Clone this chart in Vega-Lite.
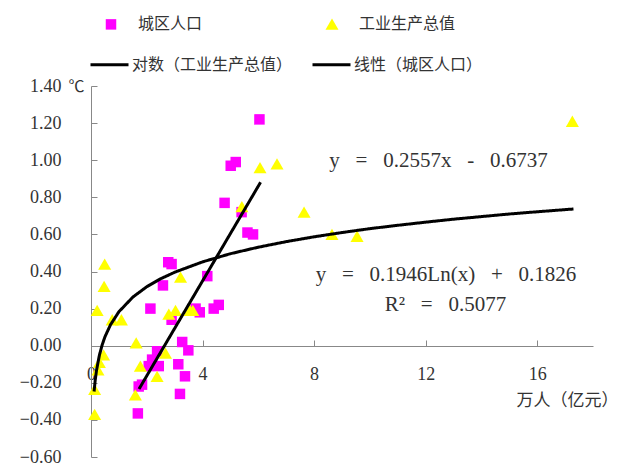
{
  "$schema": "https://vega.github.io/schema/vega-lite/v6.json",
  "width": 502,
  "height": 371,
  "autosize": {"type": "none"},
  "padding": {"left": 91, "top": 86, "right": 31, "bottom": 10},
  "background": "white",
  "config": {"view": {"stroke": null}, "axis": {"grid": false}},
  "datasets": {
    "pts": [
      {"series": "城区人口", "x": 6.04, "y": 1.22},
      {"series": "城区人口", "x": 5.01, "y": 0.97},
      {"series": "城区人口", "x": 5.19, "y": 0.99},
      {"series": "城区人口", "x": 4.79, "y": 0.77},
      {"series": "城区人口", "x": 5.40, "y": 0.72},
      {"series": "城区人口", "x": 5.61, "y": 0.61},
      {"series": "城区人口", "x": 5.81, "y": 0.60},
      {"series": "城区人口", "x": 2.77, "y": 0.45},
      {"series": "城区人口", "x": 2.89, "y": 0.44},
      {"series": "城区人口", "x": 2.58, "y": 0.325},
      {"series": "城区人口", "x": 4.17, "y": 0.375},
      {"series": "城区人口", "x": 2.13, "y": 0.20},
      {"series": "城区人口", "x": 2.89, "y": 0.14},
      {"series": "城区人口", "x": 3.75, "y": 0.20},
      {"series": "城区人口", "x": 3.90, "y": 0.18},
      {"series": "城区人口", "x": 4.40, "y": 0.20},
      {"series": "城区人口", "x": 4.58, "y": 0.22},
      {"series": "城区人口", "x": 3.27, "y": 0.02},
      {"series": "城区人口", "x": 3.49, "y": -0.025},
      {"series": "城区人口", "x": 2.37, "y": -0.03},
      {"series": "城区人口", "x": 2.19, "y": -0.075},
      {"series": "城区人口", "x": 2.43, "y": -0.11},
      {"series": "城区人口", "x": 2.07, "y": -0.11},
      {"series": "城区人口", "x": 3.13, "y": -0.10},
      {"series": "城区人口", "x": 3.37, "y": -0.165},
      {"series": "城区人口", "x": 1.83, "y": -0.21},
      {"series": "城区人口", "x": 1.71, "y": -0.22},
      {"series": "城区人口", "x": 3.19, "y": -0.26},
      {"series": "城区人口", "x": 1.68, "y": -0.365},
      {"series": "工业生产总值", "x": 17.26, "y": 1.21},
      {"series": "工业生产总值", "x": 6.06, "y": 0.96},
      {"series": "工业生产总值", "x": 6.67, "y": 0.98},
      {"series": "工业生产总值", "x": 5.41, "y": 0.75},
      {"series": "工业生产总值", "x": 7.64, "y": 0.72},
      {"series": "工业生产总值", "x": 8.64, "y": 0.60},
      {"series": "工业生产总值", "x": 9.54, "y": 0.59},
      {"series": "工业生产总值", "x": 0.49, "y": 0.44},
      {"series": "工业生产总值", "x": 0.47, "y": 0.32},
      {"series": "工业生产总值", "x": 0.22, "y": 0.19},
      {"series": "工业生产总值", "x": 0.76, "y": 0.14},
      {"series": "工业生产总值", "x": 1.09, "y": 0.14},
      {"series": "工业生产总值", "x": 3.21, "y": 0.37},
      {"series": "工业生产总值", "x": 2.79, "y": 0.17},
      {"series": "工业生产总值", "x": 3.03, "y": 0.19},
      {"series": "工业生产总值", "x": 3.55, "y": 0.19},
      {"series": "工业生产总值", "x": 3.65, "y": 0.19},
      {"series": "工业生产总值", "x": 1.62, "y": 0.015},
      {"series": "工业生产总值", "x": 0.45, "y": -0.05},
      {"series": "工业生产总值", "x": 0.30, "y": -0.09},
      {"series": "工业生产总值", "x": 0.25, "y": -0.13},
      {"series": "工业生产总值", "x": 1.77, "y": -0.11},
      {"series": "工业生产总值", "x": 2.67, "y": -0.04},
      {"series": "工业生产总值", "x": 2.37, "y": -0.165},
      {"series": "工业生产总值", "x": 1.59, "y": -0.265},
      {"series": "工业生产总值", "x": 0.13, "y": -0.235},
      {"series": "工业生产总值", "x": 0.13, "y": -0.37}
    ],
    "fit": [
      {"series": "线性（城区人口）", "x": 1.72, "y": -0.234},
      {"series": "线性（城区人口）", "x": 6.08, "y": 0.881},
      {"series": "对数（工业生产总值）", "x": 0.11, "y": -0.247},
      {"series": "对数（工业生产总值）", "x": 0.15, "y": -0.187},
      {"series": "对数（工业生产总值）", "x": 0.2, "y": -0.131},
      {"series": "对数（工业生产总值）", "x": 0.3, "y": -0.052},
      {"series": "对数（工业生产总值）", "x": 0.4, "y": 0.004},
      {"series": "对数（工业生产总值）", "x": 0.5, "y": 0.048},
      {"series": "对数（工业生产总值）", "x": 0.7, "y": 0.113},
      {"series": "对数（工业生产总值）", "x": 1.0, "y": 0.183},
      {"series": "对数（工业生产总值）", "x": 1.5, "y": 0.262},
      {"series": "对数（工业生产总值）", "x": 2.0, "y": 0.318},
      {"series": "对数（工业生产总值）", "x": 2.5, "y": 0.361},
      {"series": "对数（工业生产总值）", "x": 3.0, "y": 0.396},
      {"series": "对数（工业生产总值）", "x": 4.0, "y": 0.452},
      {"series": "对数（工业生产总值）", "x": 5.0, "y": 0.496},
      {"series": "对数（工业生产总值）", "x": 6.0, "y": 0.531},
      {"series": "对数（工业生产总值）", "x": 7.0, "y": 0.561},
      {"series": "对数（工业生产总值）", "x": 8.0, "y": 0.587},
      {"series": "对数（工业生产总值）", "x": 9.0, "y": 0.610},
      {"series": "对数（工业生产总值）", "x": 10.0, "y": 0.631},
      {"series": "对数（工业生产总值）", "x": 11.0, "y": 0.649},
      {"series": "对数（工业生产总值）", "x": 12.0, "y": 0.666},
      {"series": "对数（工业生产总值）", "x": 13.0, "y": 0.682},
      {"series": "对数（工业生产总值）", "x": 14.0, "y": 0.696},
      {"series": "对数（工业生产总值）", "x": 15.0, "y": 0.710},
      {"series": "对数（工业生产总值）", "x": 16.0, "y": 0.722},
      {"series": "对数（工业生产总值）", "x": 17.3, "y": 0.737}
    ],
    "eq": [
      {"label": "y\u00a0\u00a0\u00a0=\u00a0\u00a0\u00a00.2557x\u00a0\u00a0\u00a0-\u00a0\u00a0\u00a00.6737", "x": 12.46, "y": 0.996},
      {"label": "y\u00a0\u00a0\u00a0=\u00a0\u00a0\u00a00.1946Ln(x)\u00a0\u00a0\u00a0+\u00a0\u00a0\u00a00.1826", "x": 12.73, "y": 0.382},
      {"label": "R²\u00a0\u00a0\u00a0=\u00a0\u00a0\u00a00.5077", "x": 12.71, "y": 0.22}
    ]
  },
  "encoding": {
    "x": {
      "field": "x", "type": "quantitative",
      "scale": {"domain": [0, 18], "nice": false, "zero": false},
      "axis": {
        "title": "万人（亿元）", "values": [0, 4, 8, 12, 16], "format": "d",
        "offset": -111,
        "domainColor": "#888888", "tickColor": "#888888", "tickSize": -6,
        "labelPadding": 25, "labelFont": "Liberation Serif", "labelFontSize": 18, "labelColor": "#333333",
        "labelFlush": false, "labelOverlap": false,
        "titleFont": "Noto Sans CJK SC", "titleFontSize": 17, "titleFontWeight": "normal", "titleColor": "#333333",
        "titleX": 476, "titleY": 54, "titleAlign": "center", "titleBaseline": "middle", "titleAnchor": null
      }
    },
    "y": {
      "field": "y", "type": "quantitative",
      "scale": {"domain": [-0.6, 1.4], "nice": false, "zero": false},
      "axis": {
        "title": "℃", "values": [-0.6, -0.4, -0.2, 0, 0.2, 0.4, 0.6, 0.8, 1.0, 1.2, 1.4], "format": ".2f",
        "domainColor": "#888888", "tickColor": "#888888", "tickSize": -6,
        "labelPadding": 36, "labelFont": "Liberation Serif", "labelFontSize": 18, "labelColor": "#333333",
        "labelFlush": false, "labelOverlap": false,
        "titleFont": "Noto Sans CJK SC", "titleFontSize": 16, "titleFontWeight": "normal", "titleColor": "#333333",
        "titleAngle": 0, "titleX": -15, "titleY": 0, "titleAlign": "center", "titleBaseline": "middle", "titleAnchor": null
      }
    }
  },
  "layer": [
    {
      "data": {"name": "pts"},
      "mark": {"type": "point", "filled": true, "opacity": 1, "strokeWidth": 0},
      "encoding": {
        "color": {
          "field": "series", "type": "nominal",
          "scale": {"domain": ["城区人口", "工业生产总值"], "range": ["#FF00FF", "#FFFF00"]},
          "legend": {
            "title": null, "orient": "none", "legendX": 12, "legendY": -70, "columns": 2, "direction": "horizontal",
            "gridAlign": "all", "columnPadding": 87, "symbolSize": 120, "symbolOpacity": 1,
            "labelFont": "Noto Sans CJK SC", "labelFontSize": 16, "labelColor": "#333333", "labelOffset": 19, "labelLimit": 300
          }
        },
        "shape": {
          "field": "series", "type": "nominal",
          "scale": {"domain": ["城区人口", "工业生产总值"], "range": ["square", "triangle-up"]}
        },
        "size": {
          "field": "series", "type": "nominal",
          "scale": {"domain": ["城区人口", "工业生产总值"], "range": [110, 170]},
          "legend": null
        }
      }
    },
    {
      "data": {"name": "fit"},
      "mark": {"type": "line", "strokeWidth": 3, "color": "#000000"},
      "encoding": {
        "strokeDash": {
          "field": "series", "type": "nominal",
          "scale": {"domain": ["对数（工业生产总值）", "线性（城区人口）"], "range": [[1, 0], [1, 0]]},
          "legend": {
            "title": null, "orient": "none", "legendX": -2, "legendY": -42, "columns": 2, "direction": "horizontal",
            "gridAlign": "all", "columnPadding": 13,
            "symbolSize": 1444, "symbolType": "stroke", "symbolStrokeWidth": 3, "symbolStrokeColor": "#000000",
            "labelFont": "Noto Sans CJK SC", "labelFontSize": 16, "labelColor": "#333333", "labelOffset": 2, "labelLimit": 300
          }
        }
      }
    },
    {
      "data": {"name": "eq"},
      "mark": {"type": "text", "font": "Liberation Serif", "fontSize": 21, "color": "#333333", "align": "center", "baseline": "middle"},
      "encoding": {"text": {"field": "label"}}
    }
  ]
}
